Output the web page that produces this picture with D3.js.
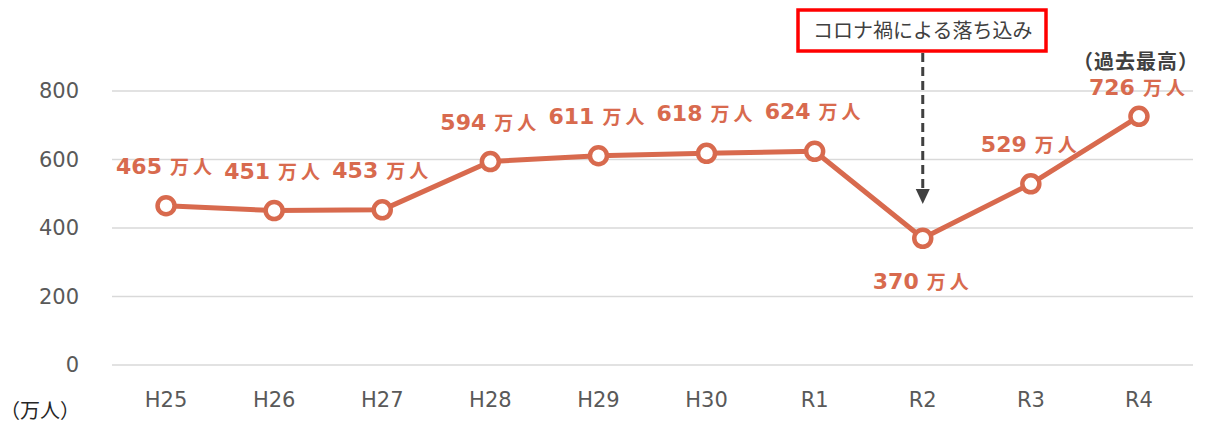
<!DOCTYPE html>
<html>
<head>
<meta charset="utf-8">
<script src="https://cdn.jsdelivr.net/npm/d3@7"></script>
<style>
  body { margin: 0; background: #fff; }
  svg text { font-family: "DejaVu Sans", "Noto Sans CJK JP", sans-serif; }
  .cjk { font-family: "Noto Sans CJK JP", sans-serif; }
</style>
</head>
<body>
<div id="chart"></div>
<script>
// data
const years = ['H25', 'H26', 'H27', 'H28', 'H29', 'H30', 'R1', 'R2', 'R3', 'R4'];
const visitors = [465, 451, 453, 594, 611, 618, 624, 370, 529, 726];
const yTicks = [0, 200, 400, 600, 800];
const unitLabel = '（万人）';
const unitSuffix = '万人';
const dipNote = 'コロナ禍による落ち込み';
const peakNote = '（過去最高）';

const width = 1207, height = 428;
const margin = { top: 91, left: 112, right: 14, bottom: 63 };
const lineColor = '#D86A4E';

const svg = d3.select('#chart').append('svg')
    .attr('width', width)
    .attr('height', height);

const x = d3.scaleBand()
    .domain(years)
    .range([margin.left, width - margin.right]);

const y = d3.scaleLinear()
    .domain([0, 800])
    .range([height - margin.bottom, margin.top]);

const cx = d => x(d) + x.bandwidth() / 2;

// gridlines
svg.append('g')
  .selectAll('line')
  .data(yTicks)
  .enter()
  .append('line')
  .attr('x1', margin.left)
  .attr('x2', width - margin.right)
  .attr('y1', d => y(d))
  .attr('y2', d => y(d))
  .attr('stroke', '#d9d9d9')
  .attr('stroke-width', 1.5);

// y axis labels
const yAxis = d3.axisLeft(y).tickValues(yTicks).tickSize(0).tickPadding(0);
svg.append('g')
    .attr('transform', 'translate(79,0)')
    .call(yAxis)
    .call(g => g.select('.domain').remove())
    .selectAll('text')
    .attr('font-size', 21)
    .attr('fill', '#595959')
    .style('font-family', '"DejaVu Sans", sans-serif');

// x axis labels
const xAxis = d3.axisBottom(x).tickSize(0).tickPadding(0);
svg.append('g')
    .attr('transform', 'translate(0,' + (height - margin.bottom + 27) + ')')
    .call(xAxis)
    .call(g => g.select('.domain').remove())
    .selectAll('text')
    .attr('font-size', 21)
    .attr('fill', '#595959')
    .style('font-family', '"DejaVu Sans", sans-serif');

svg.append('text')
    .attr('class', 'cjk')
    .attr('x', 0)
    .attr('y', 418)
    .attr('font-size', 20)
    .attr('fill', '#262626')
    .text(unitLabel);

// annotation: box + dashed arrow to R2
const dipX = cx('R2');
svg.append('rect')
    .attr('x', 798)
    .attr('y', 10)
    .attr('width', 248)
    .attr('height', 41)
    .attr('fill', '#fff')
    .attr('stroke', '#FF0000')
    .attr('stroke-width', 3.5);

svg.append('text')
    .attr('class', 'cjk')
    .attr('x', dipX)
    .attr('y', 38)
    .attr('text-anchor', 'middle')
    .attr('font-size', 20)
    .attr('fill', '#404040')
    .text(dipNote);

svg.append('line')
    .attr('x1', dipX)
    .attr('x2', dipX)
    .attr('y1', 53)
    .attr('y2', 190)
    .attr('stroke', '#404040')
    .attr('stroke-width', 3)
    .attr('stroke-dasharray', '9,5');

svg.append('path')
    .attr('d', d3.line()([[dipX - 7, 189], [dipX + 7, 189], [dipX, 204]]))
    .attr('fill', '#404040');

// line
const line = d3.line()
    .x((d, i) => cx(years[i]))
    .y(d => y(d));

svg.append('path')
    .datum(visitors)
    .attr('d', line)
    .attr('fill', 'none')
    .attr('stroke', lineColor)
    .attr('stroke-width', 5)
    .attr('stroke-linejoin', 'round');

svg.selectAll('circle.pt')
    .data(visitors)
    .enter()
    .append('circle')
    .attr('class', 'pt')
    .attr('cx', (d, i) => cx(years[i]))
    .attr('cy', d => y(d))
    .attr('r', 8.5)
    .attr('fill', '#fff')
    .attr('stroke', lineColor)
    .attr('stroke-width', 4.5);

// value labels
const maxIdx = visitors.indexOf(d3.max(visitors));
const minIdx = visitors.indexOf(d3.min(visitors));

const labels = svg.selectAll('text.val')
    .data(visitors)
    .enter()
    .append('text')
    .attr('class', 'val')
    .attr('x', (d, i) => cx(years[i]))
    .attr('y', (d, i) => {
      if (i === minIdx) return y(d) + 51;
      if (i === maxIdx) return y(d) - 21;
      return y(d) - 32;
    })
    .attr('text-anchor', 'middle')
    .attr('fill', lineColor)
    .attr('font-weight', 'bold');

labels.append('tspan')
    .attr('font-size', 22)
    .text(d => d);
labels.append('tspan')
    .attr('class', 'cjk')
    .attr('dx', 8)
    .attr('font-size', 19)
    .attr('letter-spacing', 4)
    .text(unitSuffix);

svg.append('text')
    .attr('class', 'cjk')
    .attr('x', cx(years[maxIdx]) - 3)
    .attr('y', y(visitors[maxIdx]) - 47)
    .attr('text-anchor', 'middle')
    .attr('font-size', 20)
    .attr('letter-spacing', 1)
    .attr('font-weight', 'bold')
    .attr('fill', '#404040')
    .text(peakNote);
</script>
</body>
</html>
